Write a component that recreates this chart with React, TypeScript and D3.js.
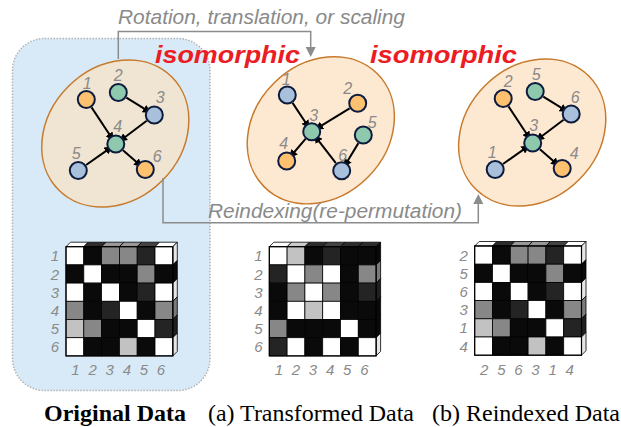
import React from "react";
import * as d3 from "d3";

// ---------- data ----------
const nodeIds = [1, 2, 3, 4, 5, 6];
// layout (relative to ellipse centre) for each graph
const origLayout: [number, number][] = [[-29, -34], [3, -41], [39, -18.5], [0.5, 10.5], [-37, 37], [30, 36]];
const origLabelOff: [number, number][] = [[1, -17], [0, -18], [6, -18], [2, -18], [-2, -18], [12, -14]];
const origColors = ["o", "t", "b", "t", "b", "o"];
const origEdges: [number, number][] = [[1, 4], [2, 3], [3, 4], [5, 4], [4, 6]];

const transLayout: [number, number][] = [[-33.5, -35.3], [36.9, -27], [-9.1, 1.4], [-34.1, 30.7], [42.5, 4.7], [20.9, 40.4]];
const transLabelOff: [number, number][] = [[-1, -16], [-10, -15], [2, -17], [-3, -18], [9, -13], [1, -16]];
const transColors = ["b", "o", "t", "o", "t", "b"];
const transEdges: [number, number][] = [[1, 3], [2, 3], [3, 4], [5, 6], [6, 3]];

const reLabels = [2, 5, 6, 3, 1, 4];
const reLabelOff: [number, number][] = [[5, -18], [1, -18], [4, -17], [1, -18], [-3, -18], [12, -16]];
const reColors = ["o", "t", "b", "t", "b", "o"];
const reEdges: [number, number][] = [[2, 3], [5, 6], [6, 3], [1, 3], [3, 4]];

// matrices (W white, L light, G gray, D dark, B black)
const origMatrix = [
  "WBGGDW",
  "BWBBGB",
  "WBWBDW",
  "GBDWBG",
  "LGBBWD",
  "WBBLBW",
];
const transMatrix = [
  "WLBDBB",
  "DWGWBG",
  "BGWGBD",
  "BWLWBB",
  "GBBBWB",
  "DWBWBW",
];
const reMatrix = origMatrix;
const origRowLabels = ["1", "2", "3", "4", "5", "6"];
const origColLabels = ["1", "2", "3", "4", "5", "6"];
const reRowLabels = ["2", "5", "6", "3", "1", "4"];
const reColLabels = ["2", "5", "6", "3", "1", "4"];

const captions = ["Original Data", "(a) Transformed Data", "(b) Reindexed Data"];

// ---------- styles ----------
const cellColor: Record<string, string> = { W: "#ffffff", L: "#c2c2c2", G: "#878787", D: "#242424", B: "#0a0a0a" };
const nodeColor: Record<string, string> = { o: "#fdc170", t: "#8ec9ae", b: "#a8c0dc" };
const sans = "'Liberation Sans', Arial, sans-serif";
const serif = "'Liberation Serif', 'Times New Roman', serif";
const grayText = "#8a8a8a";
const R = 8.5;

type GraphProps = {
  cx: number; cy: number; fill: string;
  layout: [number, number][]; labels: number[]; labelOff: [number, number][];
  colors: string[]; edges: [number, number][]; id: string;
};

function Graph({ cx, cy, fill, layout, labels, labelOff, colors, edges }: GraphProps) {
  const sx = d3.scaleLinear().domain([0, 1]).range([cx, cx + 1]);
  const sy = d3.scaleLinear().domain([0, 1]).range([cy, cy + 1]);
  const pos = new Map<number, [number, number]>();
  labels.forEach((l, i) => pos.set(l, [sx(layout[i][0]), sy(layout[i][1])]));
  return (
    <g>
      <ellipse cx={cx} cy={cy} rx={80} ry={66.5} transform={`rotate(-45 ${cx} ${cy})`}
        fill={fill} stroke="#c77a2c" strokeWidth={1.5} />
      {edges.map(([a, b], k) => {
        const [x1, y1] = pos.get(a)!;
        const [x2, y2] = pos.get(b)!;
        const dx = x2 - x1, dy = y2 - y1, L = Math.hypot(dx, dy);
        const ux = dx / L, uy = dy / L;
        return (
          <line key={k} x1={x1 + ux * (R + 1)} y1={y1 + uy * (R + 1)}
            x2={x2 - ux * (R + 2)} y2={y2 - uy * (R + 2)}
            stroke="#000" strokeWidth={2} markerEnd={`url(#arrowBlack)`} />
        );
      })}
      {labels.map((l, i) => {
        const [x, y] = pos.get(l)!;
        return (
          <g key={l}>
            <circle cx={x} cy={y} r={R} fill={nodeColor[colors[i]]} stroke="#0d1b3e" strokeWidth={2} />
            <text x={x + labelOff[i][0]} y={y + labelOff[i][1] + 6} textAnchor="middle"
              fontFamily={sans} fontStyle="italic" fontSize={16} fill={grayText}>{l}</text>
          </g>
        );
      })}
    </g>
  );
}

type MatrixProps = { x0: number; y0: number; data: string[]; rowLabels: string[]; colLabels: string[] };

function Matrix({ x0, y0, data, rowLabels, colLabels }: MatrixProps) {
  const cw = 17.8, ch = 18.2, ddx = 4.5, ddy = -4.5;
  const xs = d3.scaleBand<number>().domain(d3.range(6)).range([x0, x0 + cw * 6]);
  const ys = d3.scaleBand<number>().domain(d3.range(6)).range([y0, y0 + ch * 6]);
  const lab = d3.scaleLinear().domain([0, 5]).range([x0 + 9.5, x0 + 9.5 + 5 * 17.1]);
  const x1 = x0 + cw * 6;
  const top = (c: string) => d3.interpolateRgb(cellColor[c], "#ffffff")(0.14);
  const side = (c: string) => d3.interpolateRgb(cellColor[c], "#000000")(0.1);
  return (
    <g>
      {d3.range(6).map((j) => {
        const a = xs(j)!, b = a + cw;
        return (
          <polygon key={"t" + j}
            points={`${a},${y0} ${b},${y0} ${b + ddx},${y0 + ddy} ${a + ddx},${y0 + ddy}`}
            fill={top(data[0][j])} stroke="#000" strokeWidth={0.8} strokeLinejoin="round" />
        );
      })}
      {d3.range(6).map((i) => {
        const a = ys(i)!, b = a + ch;
        return (
          <polygon key={"s" + i}
            points={`${x1},${a} ${x1 + ddx},${a + ddy} ${x1 + ddx},${b + ddy} ${x1},${b}`}
            fill={side(data[i][5])} stroke="#000" strokeWidth={0.8} strokeLinejoin="round" />
        );
      })}
      {data.map((row, i) =>
        row.split("").map((c, j) => (
          <rect key={i + "-" + j} x={xs(j)} y={ys(i)} width={cw} height={ch}
            fill={cellColor[c]} stroke="#000" strokeWidth={0.8} />
        ))
      )}
      <rect x={x0} y={y0} width={cw * 6} height={ch * 6} fill="none" stroke="#000" strokeWidth={1.2} />
      {rowLabels.map((l, i) => (
        <text key={"r" + i} x={x0 - 11} y={ys(i)! + ch / 2 + 5.5} textAnchor="middle"
          fontFamily={sans} fontStyle="italic" fontSize={15} fill={grayText}>{l}</text>
      ))}
      {colLabels.map((l, j) => (
        <text key={"c" + j} x={lab(j)} y={375} textAnchor="middle"
          fontFamily={sans} fontStyle="italic" fontSize={15} fill={grayText}>{l}</text>
      ))}
    </g>
  );
}

export default function App() {
  return (
    <svg width={621} height={427} viewBox="0 0 621 427" style={{ display: "block", position: "absolute", left: 0, top: 0, background: "#fff" }}>
      <defs>
        <marker id="arrowBlack" viewBox="0 0 10 10" refX={2} refY={5} markerWidth={4.2} markerHeight={4.2}
          markerUnits="strokeWidth" orient="auto">
          <path d="M0,0 L10,5 L0,10 z" fill="#000" />
        </marker>
      </defs>
      {/* blue box */}
      <rect x={12.5} y={38.5} width={197.5} height={352} rx={32} ry={32}
        fill="#d8eaf7" stroke="#b3b3b3" strokeWidth={1.5} strokeDasharray="1.5 1.5" />

      <Graph id="g0" cx={115.3} cy={133.5} fill="#f0e4d2" layout={origLayout} labels={nodeIds}
        labelOff={origLabelOff} colors={origColors} edges={origEdges} />
      <Graph id="g1" cx={320.8} cy={130.3} fill="#fde9d1" layout={transLayout} labels={nodeIds}
        labelOff={transLabelOff} colors={transColors} edges={transEdges} />
      <Graph id="g2" cx={532.2} cy={132.5} fill="#fde9d1" layout={origLayout} labels={reLabels}
        labelOff={reLabelOff} colors={reColors} edges={reEdges} />

      {/* connectors */}
      <path d="M118.3,59 V31.5 H310.7 V49" fill="none" stroke="#8c8c8c" strokeWidth={1.5} />
      <path d="M305.7,47 L315.7,47 L310.7,57 z" fill="#8c8c8c" />
      <path d="M163,178 V222.7 H478.3 V202" fill="none" stroke="#8c8c8c" strokeWidth={1.5} />
      <path d="M473.3,204 L483.3,204 L478.3,194 z" fill="#8c8c8c" />

      <text x={118} y={24} fontFamily={sans} fontStyle="italic" fontSize={20} fill={grayText}
        textLength={287} lengthAdjust="spacingAndGlyphs">Rotation, translation, or scaling</text>
      <text x={208} y={218} fontFamily={sans} fontStyle="italic" fontSize={20} fill={grayText}
        textLength={254} lengthAdjust="spacingAndGlyphs">Reindexing(re-permutation)</text>
      <text x={155} y={63} fontFamily={sans} fontStyle="italic" fontWeight="bold" fontSize={24} fill="#ec1c24"
        textLength={145} lengthAdjust="spacingAndGlyphs">isomorphic</text>
      <text x={370} y={63} fontFamily={sans} fontStyle="italic" fontWeight="bold" fontSize={24} fill="#ec1c24"
        textLength={147} lengthAdjust="spacingAndGlyphs">isomorphic</text>

      <Matrix x0={66} y0={246.7} data={origMatrix} rowLabels={origRowLabels} colLabels={origColLabels} />
      <Matrix x0={269.3} y0={246.7} data={transMatrix} rowLabels={origRowLabels} colLabels={origColLabels} />
      <Matrix x0={474.7} y0={246} data={reMatrix} rowLabels={reRowLabels} colLabels={reColLabels} />

      <text x={44} y={421} fontFamily={serif} fontWeight="bold" fontSize={23} fill="#000"
        textLength={142} lengthAdjust="spacingAndGlyphs">{captions[0]}</text>
      <text x={208} y={421} fontFamily={serif} fontSize={23} fill="#000"
        textLength={206} lengthAdjust="spacingAndGlyphs">{captions[1]}</text>
      <text x={432} y={421} fontFamily={serif} fontSize={23} fill="#000"
        textLength={188} lengthAdjust="spacingAndGlyphs">{captions[2]}</text>
    </svg>
  );
}
